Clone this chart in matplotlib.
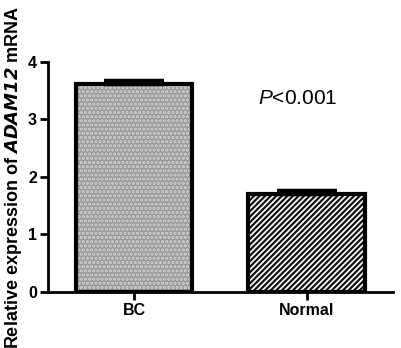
import matplotlib
matplotlib.use('Agg')
from matplotlib import pyplot as plt

groups = ['BC', 'Normal']
means = [3.62, 1.70]
errors = [0.04, 0.05]
p_text = '$\\it{P}$<0.001'

plt.rcParams['font.family'] = ['Liberation Sans', 'DejaVu Sans']
plt.rcParams['mathtext.fontset'] = 'custom'
plt.rcParams['mathtext.rm'] = 'Liberation Sans'
plt.rcParams['mathtext.it'] = 'Liberation Sans:italic'
plt.rcParams['mathtext.bf'] = 'Liberation Sans:bold'
plt.rcParams['hatch.linewidth'] = 1.6

fig = plt.figure(figsize=(4.02, 3.48), dpi=100)
ax = fig.add_axes([0.1194, 0.161, 0.858, 0.661])

x = range(len(groups))
# fill layers (hatch drawn in edgecolor)
ax.bar(x[0], means[0], width=0.675, color='#999999', edgecolor='#d2d2d2',
       hatch='....', linewidth=0, zorder=1)
ax.bar(x[1], means[1], width=0.675, color='#ffffff', edgecolor='#111111',
       hatch='//////', linewidth=0, zorder=1)
# outlines
ax.bar(x, means, width=0.675, fill=False, edgecolor='black', linewidth=3, zorder=2)
# upward error bars as thick caps
ax.errorbar(x, means, yerr=[[0, 0], errors], fmt='none', ecolor='black',
            elinewidth=3, capsize=21.5, capthick=3.2, zorder=3)

ax.set_xlim(-0.5, 1.5)
ax.set_ylim(0, 4)
ax.set_yticks([0, 1, 2, 3, 4])
ax.set_xticks(list(x))
ax.set_xticklabels(groups, fontsize=11.5, fontweight='bold')
for lab in ax.get_yticklabels():
    lab.set_fontsize(11.5)
    lab.set_fontweight('bold')

ax.spines['top'].set_visible(False)
ax.spines['right'].set_visible(False)
ax.spines['left'].set_linewidth(2)
ax.spines['bottom'].set_linewidth(2)
ax.tick_params(axis='both', width=2, length=6, direction='out', pad=2)

ax.set_ylabel('Relative expression of $\\mathbfit{ADAM12}$ mRNA', fontsize=13,
              fontweight='bold', labelpad=3)
ax.text(0.95, 3.37, p_text, fontsize=15, ha='center', va='center')

fig.savefig('out.png', dpi=100)
